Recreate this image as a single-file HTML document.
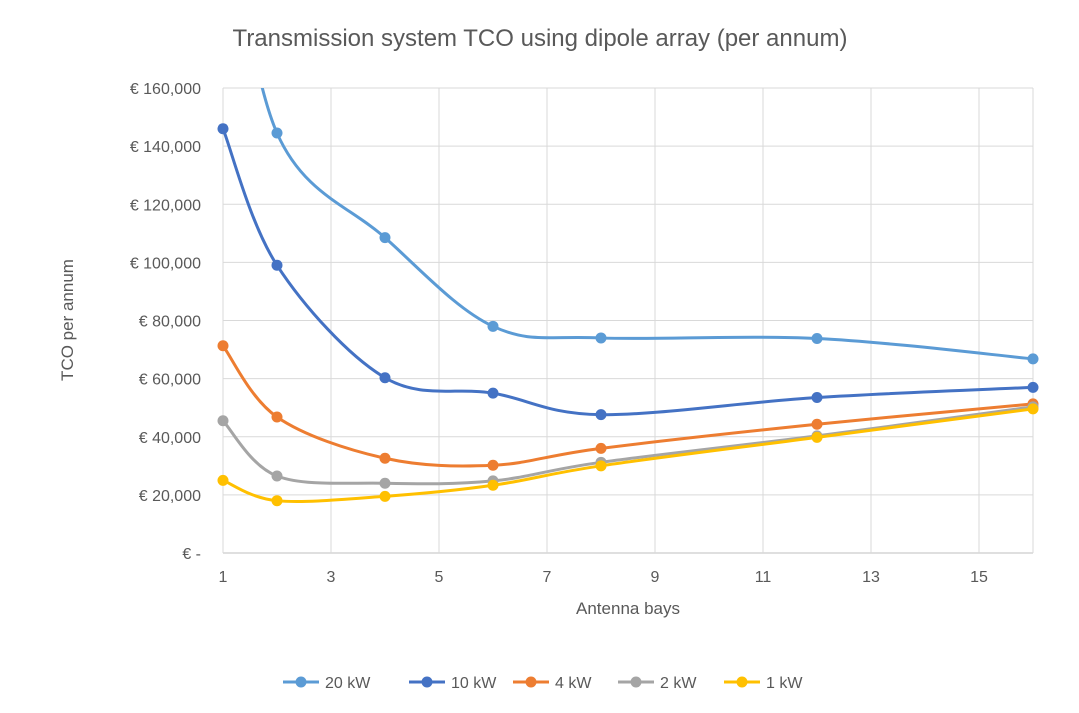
<!DOCTYPE html>
<html><head><meta charset="utf-8"><style>
body{margin:0;background:#fff;}
svg{display:block;font-family:"Liberation Sans",sans-serif;}
</style></head><body>
<svg id="c" width="1079" height="713">
<text x="540" y="46" text-anchor="middle" font-size="24" fill="#595959">Transmission system TCO using dipole array (per annum)</text>
<g id="grid"></g><g id="axes"></g><g id="series"></g><g id="legend"></g>
<text x="628" y="614" text-anchor="middle" font-size="17" fill="#595959">Antenna bays</text>
<text transform="translate(73,320) rotate(-90)" text-anchor="middle" font-size="17" fill="#595959">TCO per annum</text>
</svg>
<script>
const xs=[1,2,4,6,8,12,16];
const s20=[235000,144500,108500,78000,74000,73800,66800];
const s10=[146000,99000,60300,55000,47600,53500,57000];
const s4=[71300,46800,32600,30200,36000,44300,51300];
const s2=[45500,26500,24000,24800,31200,40300,50300];
const s1=[25000,18000,19500,23300,30000,39800,49600];
const seriesNames=["20 kW","10 kW","4 kW","2 kW","1 kW"];
const seriesVals=[s20,s10,s4,s2,s1];
const colors=["#5B9BD5","#4472C4","#ED7D31","#A5A5A5","#FFC000"];
const yTicks=[0,20000,40000,60000,80000,100000,120000,140000,160000];
const yTickLabels=["€ -","€ 20,000","€ 40,000","€ 60,000","€ 80,000","€ 100,000","€ 120,000","€ 140,000","€ 160,000"];
const xTicks=[1,3,5,7,9,11,13,15];

const NS="http://www.w3.org/2000/svg";
const L=223,R=1033,T=88,B=553;
const X=v=>L+(v-1)/15*(R-L);
const Y=v=>B-v/160000*(B-T);
function mk(tag,attrs,parent){const e=document.createElementNS(NS,tag);for(const k in attrs)e.setAttribute(k,attrs[k]);parent.appendChild(e);return e;}
const grid=document.getElementById('grid'),axes=document.getElementById('axes'),ser=document.getElementById('series'),leg=document.getElementById('legend');
const defs=mk('defs',{},document.getElementById('c'));
const cp=mk('clipPath',{id:'clip'},defs);mk('rect',{x:L-10,y:T,width:R-L+20,height:B-T+10},cp);
yTicks.forEach((v,i)=>{
  const l=mk('line',{x1:L,x2:R,y1:Y(v),y2:Y(v),stroke:i==0?'#bfbfbf':'#d9d9d9','stroke-width':1},grid);
  
  
  const t=mk('text',{x:201,y:Y(v)+6,'text-anchor':'end','font-size':16,fill:'#595959'},axes);
  t.textContent=yTickLabels[i];
  
  
});
xTicks.concat([16]).forEach(v=>{
  const l=mk('line',{x1:X(v),x2:X(v),y1:T,y2:B,stroke:'#d9d9d9','stroke-width':1},grid);
  
  
});
xTicks.forEach(v=>{
  const t=mk('text',{x:X(v),y:582,'text-anchor':'middle','font-size':16,fill:'#595959'},axes);
  t.textContent=v;
  
  
});
function smooth(pts){
  let d=`M${pts[0][0]},${pts[0][1]}`;const k=1/6;
  for(let i=0;i<pts.length-1;i++){
    const p0=pts[Math.max(0,i-1)],p1=pts[i],p2=pts[i+1],p3=pts[Math.min(pts.length-1,i+2)];
    const c1=[p1[0]+(p2[0]-p0[0])*k,p1[1]+(p2[1]-p0[1])*k];
    const c2=[p2[0]-(p3[0]-p1[0])*k,p2[1]-(p3[1]-p1[1])*k];
    d+=` C${c1[0]},${c1[1]} ${c2[0]},${c2[1]} ${p2[0]},${p2[1]}`;
  }
  return d;
}
seriesVals.forEach((vals,si)=>{
  const g=mk('g',{'clip-path':'url(#clip)'},ser);
  
  
  const pts=xs.map((x,i)=>[X(x),Y(vals[i])]);
  const p=mk('path',{d:smooth(pts),fill:'none',stroke:colors[si],'stroke-width':3},g);
  
  
  pts.forEach(pt=>{
    const c=mk('circle',{cx:pt[0],cy:pt[1],r:5.5,fill:colors[si]},g);
    
    
  });
});
const legX=[283,409,513,618,724];
seriesNames.forEach((n,i)=>{
  const g=mk('g',{},leg);
  
  
  mk('line',{x1:legX[i],x2:legX[i]+36,y1:682,y2:682,stroke:colors[i],'stroke-width':3},g);
  mk('circle',{cx:legX[i]+18,cy:682,r:5.5,fill:colors[i]},g);
  const t=mk('text',{x:legX[i]+42,y:688,'font-size':16,fill:'#595959'},g);
  t.textContent=n;
});
</script>
</body></html>
